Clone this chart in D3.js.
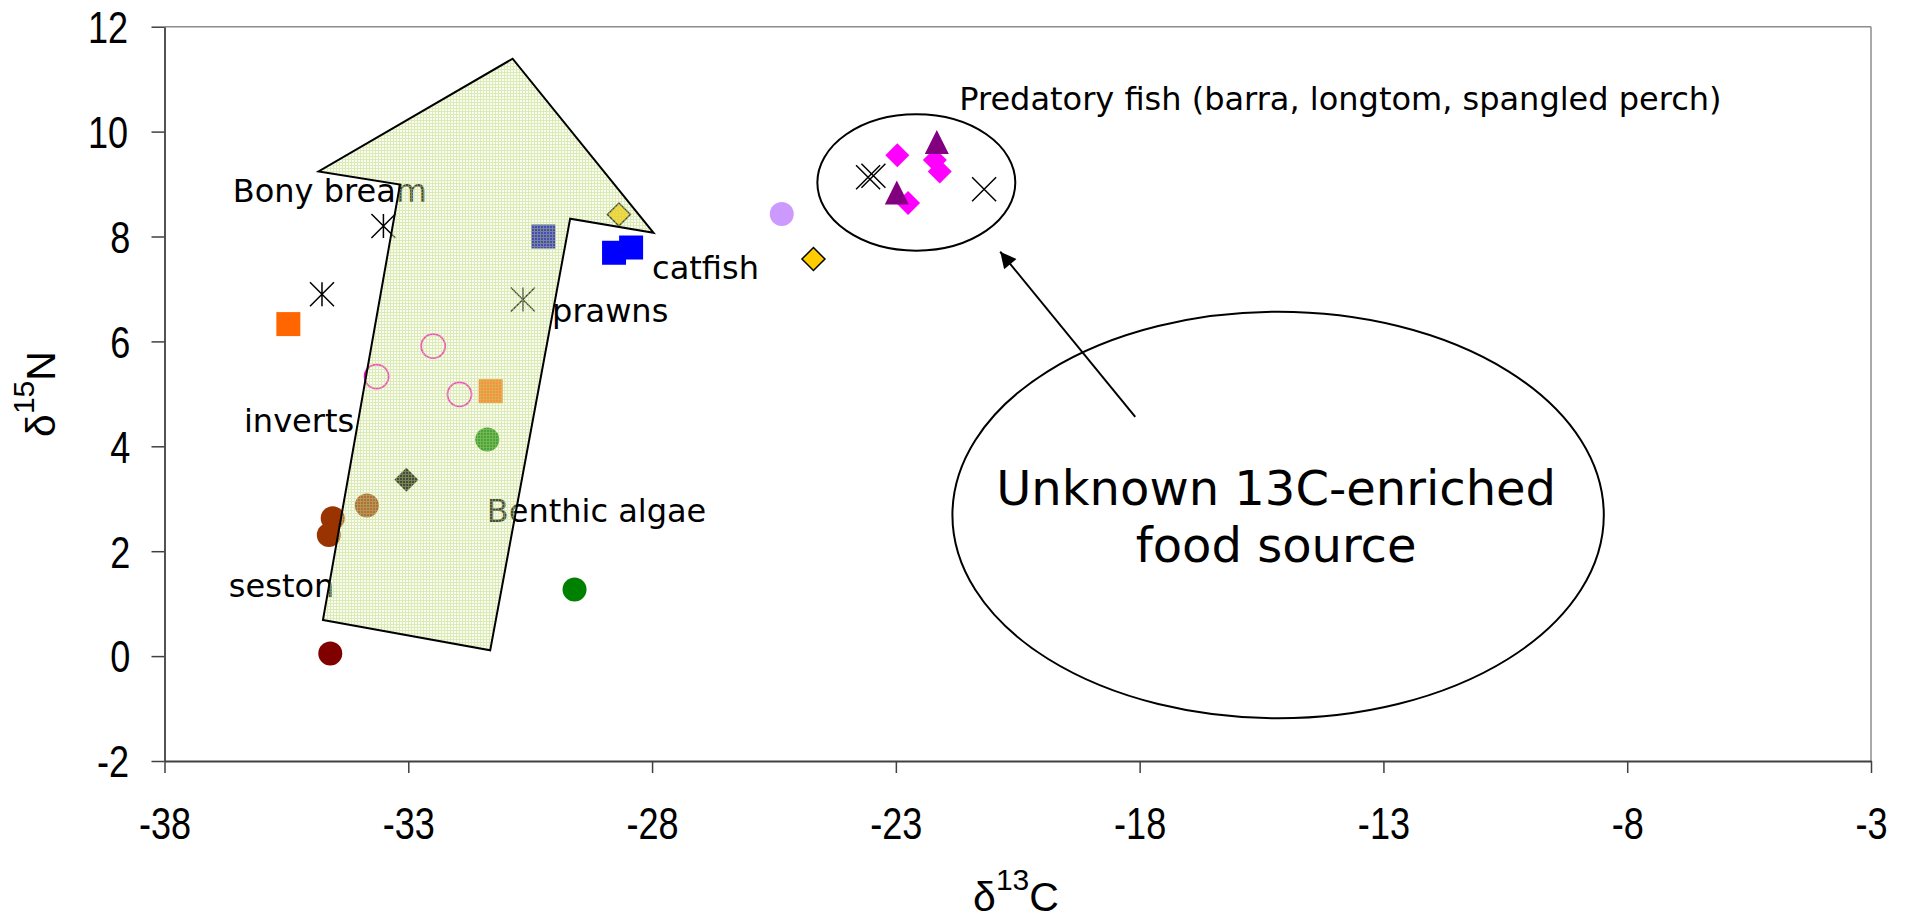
<!DOCTYPE html>
<html><head><meta charset="utf-8">
<script src="https://cdn.jsdelivr.net/npm/d3@7/dist/d3.min.js"></script>
<style>
html,body{margin:0;padding:0;background:#fff;}
svg{display:block;}
.tick text{font-family:"Liberation Sans",Arial,sans-serif;font-size:44px;fill:#000;transform-box:fill-box;transform-origin:center;transform:scaleX(0.82);}
.lbl{font-family:"DejaVu Sans",Verdana,sans-serif;font-size:32px;fill:#000;}
.big{font-family:"DejaVu Sans",Verdana,sans-serif;font-size:48px;fill:#000;}
.ttl{font-family:"Liberation Sans",Arial,sans-serif;font-size:41px;fill:#000;}
</style></head>
<body>
<script>
// ---- data ----
const xTicks = [-38, -33, -28, -23, -18, -13, -8, -3];
const yTicks = [-2, 0, 2, 4, 6, 8, 10, 12];

const asteriskPts   = [[-33.51, 8.20], [-34.77, 6.90], [-30.65, 6.80]];
const crossPts      = [[-23.57, 9.13], [-23.46, 9.16], [-21.19, 8.90]];
const orangeSquares = [[-35.46, 6.33], [-31.31, 5.05]];
const pinkRings     = [[-32.49, 5.91], [-33.65, 5.33], [-31.95, 4.99]];
const greenDots     = [[-31.38, 4.13], [-29.59, 1.27]];
const blackDiamond  = [[-33.04, 3.36]];
const brownDots     = [[-33.85, 2.87], [-34.55, 2.63], [-34.63, 2.31]];
const sestonDot     = [[-34.60, 0.05]];
const navySquare    = [[-30.23, 8.00]];
const blueSquares   = [[-28.78, 7.69], [-28.43, 7.79]];
const goldDiamonds  = [[-28.68, 8.42], [-24.69, 7.57]];
const lilacDot      = [[-25.34, 8.43]];
const pinkDiamonds  = [[-22.97, 9.55], [-22.20, 9.46], [-22.10, 9.24], [-22.75, 8.64]];
const purpleTris    = [[-22.16, 9.80], [-22.98, 8.84]];

const blockArrow = [[-34.75, 0.69], [-31.32, 0.11], [-29.68, 8.34], [-27.97, 8.07],
                    [-30.86, 11.39], [-34.84, 9.24], [-33.17, 8.99]];
const predEllipse = {cx: -22.58, cy: 9.03, rx: 2.03, ry: 1.30};
const unknownEllipse = {cx: -15.16, cy: 2.69, rx: 6.68, ry: 3.875};
const pointer = [[-18.09, 4.56], [-20.86, 7.71]];

const labels = [
  {t: "Bony bream", x: -36.60, y: 8.66},
  {t: "catfish", x: -28.00, y: 7.19},
  {t: "prawns", x: -30.05, y: 6.37},
  {t: "inverts", x: -36.37, y: 4.27},
  {t: "Benthic algae", x: -31.39, y: 2.56},
  {t: "seston", x: -36.68, y: 1.13},
  {t: "Predatory fish (barra, longtom, spangled perch)", x: -21.70, y: 10.41}
];
const bigLabel = [{t: "Unknown 13C-enriched", x: -15.20, y: 2.88}, {t: "food source", x: -15.20, y: 1.80}];

// ---- setup ----
const W = 1908, H = 922;
const svg = d3.select("body").append("svg").attr("width", W).attr("height", H);
const x = d3.scaleLinear().domain([-38, -3]).range([164.5, 1871]);
const y = d3.scaleLinear().domain([-2, 12]).range([761, 26.7]);

const defs = svg.append("defs");
const pat = defs.append("pattern").attr("id", "mesh").attr("patternUnits", "userSpaceOnUse")
  .attr("width", 3).attr("height", 3);
pat.append("rect").attr("width", 3).attr("height", 1).attr("fill", "#c4de84").attr("fill-opacity", 0.6);
pat.append("rect").attr("y", 1).attr("width", 1).attr("height", 2).attr("fill", "#c4de84").attr("fill-opacity", 0.6);
pat.append("rect").attr("x", 1).attr("y", 1).attr("width", 2).attr("height", 2).attr("fill", "#eef6d0").attr("fill-opacity", 0.3);

defs.append("marker").attr("id", "head").attr("viewBox", "0 0 10 10").attr("refX", 10).attr("refY", 5)
  .attr("markerWidth", 22).attr("markerHeight", 16).attr("markerUnits", "userSpaceOnUse")
  .attr("orient", "auto")
  .append("path").attr("d", "M0,0 L10,5 L0,10 Z").attr("fill", "#000");

// border (top/right)
svg.append("line").attr("x1", x(-38)).attr("x2", x(-3)).attr("y1", y(12)).attr("y2", y(12))
  .attr("stroke", "#8c8c8c").attr("stroke-width", 1.5);
svg.append("line").attr("x1", x(-3)).attr("x2", x(-3)).attr("y1", y(12)).attr("y2", y(-2))
  .attr("stroke", "#8c8c8c").attr("stroke-width", 1.5);

// axes
const fmt = d => d3.format("d")(d).replace("\u2212", "-");
const gx = svg.append("g").attr("transform", `translate(0,${y(-2)})`)
  .call(d3.axisBottom(x).tickValues(xTicks).tickFormat(fmt).tickSize(12).tickSizeOuter(0));
const gy = svg.append("g").attr("transform", `translate(${x(-38)},0)`)
  .call(d3.axisLeft(y).tickValues(yTicks).tickFormat(fmt).tickSize(13).tickSizeOuter(0).tickPadding(19));
[gx, gy].forEach(g => {
  g.select(".domain").attr("stroke", "#404040").attr("stroke-width", 1.8);
  g.selectAll(".tick line").attr("stroke", "#404040").attr("stroke-width", 1.5);
});
gx.selectAll(".tick text").attr("dy", null).attr("y", 78);
gy.selectAll(".tick text").attr("dy", "0.36em");

// axis titles
const tx = svg.append("text").attr("class", "ttl").attr("x", 1016).attr("y", 911).attr("text-anchor", "middle");
tx.append("tspan").text("δ");
tx.append("tspan").attr("dy", -21).attr("font-size", 30).text("13");
tx.append("tspan").attr("dy", 21).text("C");
const ty = svg.append("text").attr("class", "ttl").attr("transform", "translate(55,394) rotate(-90)").attr("text-anchor", "middle");
ty.append("tspan").text("δ");
ty.append("tspan").attr("dy", -21).attr("font-size", 30).text("15");
ty.append("tspan").attr("dy", 21).text("N");

// ---- markers ----
const S = 12;
const shapes = {
  circle: "M" + S + ",0A" + S + "," + S + " 0 1,1 " + (-S) + ",0A" + S + "," + S + " 0 1,1 " + S + ",0Z",
  square: `M${-S},${-S}H${S}V${S}H${-S}Z`,
  diamond: `M0,${-S}L${S},0L0,${S}L${-S},0Z`,
  gdiamond: `M0,${-11.5}L11.5,0L0,11.5L-11.5,0Z`,
  triangle: `M0,${-S}L${S},${S}L${-S},${S}Z`,
  cross: `M${-S},${-S}L${S},${S}M${S},${-S}L${-S},${S}`,
  asterisk: `M${-S},${-S}L${S},${S}M${S},${-S}L${-S},${S}M0,${-S}V${S}`
};
function plot(data, shape, fill, stroke, sw) {
  svg.append("g").selectAll("path").data(data).join("path")
    .attr("transform", d => `translate(${x(d[0])},${y(d[1])})`)
    .attr("d", shapes[shape])
    .attr("fill", fill).attr("stroke", stroke || "none").attr("stroke-width", sw || 0);
}
plot(sestonDot, "circle", "#800000");
plot(brownDots, "circle", "#993300");
plot(greenDots, "circle", "#008000");
plot(blackDiamond, "diamond", "#000000");
plot(pinkRings, "circle", "none", "#ff00cc", 1.8);
plot(orangeSquares, "square", "#ff6600");
plot(asteriskPts, "asterisk", "none", "#000", 1.5);
plot(navySquare, "square", "#0000b0");
plot(blueSquares, "square", "#0000ff");
plot(goldDiamonds, "gdiamond", "#ffcc00", "#000", 1.5);
plot(lilacDot, "circle", "#cc99ff");
plot(pinkDiamonds, "diamond", "#ff00ff");
plot(purpleTris, "triangle", "#800080");
plot(crossPts, "cross", "none", "#000", 1.5);

// labels
svg.append("g").selectAll("text").data(labels).join("text").attr("class", "lbl")
  .attr("x", d => x(d.x)).attr("y", d => y(d.y)).text(d => d.t);

// block arrow (drawn over markers, mesh fill)
svg.append("path").attr("d", d3.line().x(d => x(d[0])).y(d => y(d[1]))(blockArrow) + "Z")
  .attr("fill", "url(#mesh)").attr("stroke", "#000").attr("stroke-width", 2).attr("stroke-linejoin", "miter");

// ellipses
[predEllipse, unknownEllipse].forEach(e => {
  svg.append("ellipse").attr("cx", x(e.cx)).attr("cy", y(e.cy))
    .attr("rx", x(e.cx + e.rx) - x(e.cx)).attr("ry", y(e.cy) - y(e.cy + e.ry))
    .attr("fill", "none").attr("stroke", "#000").attr("stroke-width", 2);
});
svg.append("g").selectAll("text").data(bigLabel).join("text").attr("class", "big")
  .attr("x", d => x(d.x)).attr("y", d => y(d.y)).attr("text-anchor", "middle").text(d => d.t);

// pointer arrow
svg.append("line").attr("x1", x(pointer[0][0])).attr("y1", y(pointer[0][1]))
  .attr("x2", x(pointer[1][0])).attr("y2", y(pointer[1][1]))
  .attr("stroke", "#000").attr("stroke-width", 2).attr("marker-end", "url(#head)");
</script>
</body></html>
